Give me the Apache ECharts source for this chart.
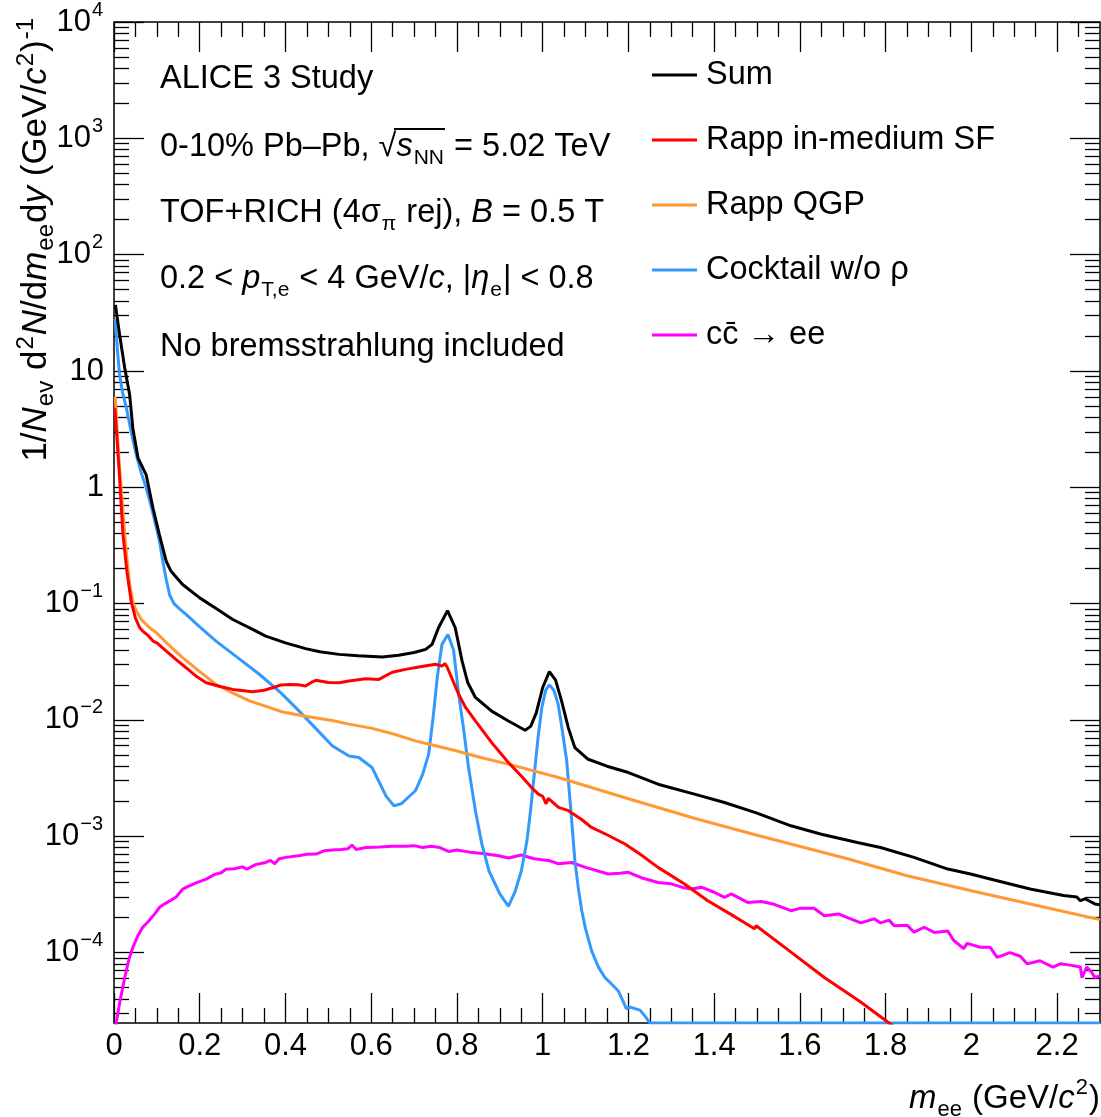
<!DOCTYPE html>
<html>
<head>
<meta charset="utf-8">
<script src="https://cdn.jsdelivr.net/npm/echarts@6/dist/echarts.min.js"></script>
<style>
  html, body { margin: 0; padding: 0; background: #fff; }
  #main { width: 1101px; height: 1117px; }
</style>
</head>
<body>
<div id="main"></div>
<script>
// values, [m_ee, yield]
var sumData = [
  [0.0033, 37], [0.013, 20.6], [0.025, 10.6], [0.0365, 6.25], [0.044, 3.2], [0.056, 1.79],
  [0.075, 1.28], [0.091, 0.66], [0.106, 0.39], [0.122, 0.23], [0.133, 0.19], [0.16, 0.146],
  [0.2, 0.112], [0.24, 0.09], [0.277, 0.073], [0.32, 0.061], [0.354, 0.0526], [0.4, 0.046],
  [0.447, 0.041], [0.48, 0.0385], [0.525, 0.0366], [0.57, 0.0357], [0.626, 0.0347], [0.664, 0.036],
  [0.7, 0.038], [0.727, 0.0404], [0.742, 0.0446], [0.757, 0.062], [0.778, 0.087], [0.796, 0.062],
  [0.812, 0.032], [0.825, 0.021], [0.843, 0.0156], [0.881, 0.0119], [0.92, 0.0098], [0.959, 0.00815],
  [0.972, 0.0088], [0.985, 0.0115], [1.0, 0.019], [1.0156, 0.026], [1.03, 0.022], [1.044, 0.0146],
  [1.06, 0.0085], [1.075, 0.00578], [1.106, 0.00459], [1.15, 0.004], [1.2, 0.00353], [1.269, 0.0028],
  [1.354, 0.0023], [1.424, 0.00195], [1.5, 0.00158], [1.579, 0.00123], [1.65, 0.00104], [1.734, 0.000885],
  [1.788, 0.0008], [1.866, 0.000658], [1.945, 0.000522], [1.998, 0.000473], [2.06, 0.000415],
  [2.137, 0.000352], [2.215, 0.000309], [2.246, 0.0003], [2.254, 0.000279], [2.265, 0.00029],
  [2.288, 0.000262], [2.3, 0.000258]
];
var rappSfData = [
  [0.002, 4.8], [0.008, 2.3], [0.013, 1.2], [0.021, 0.39], [0.03, 0.19], [0.04, 0.105], [0.05, 0.075],
  [0.06, 0.062], [0.067, 0.058], [0.08, 0.053], [0.091, 0.0476], [0.1, 0.046], [0.122, 0.039],
  [0.145, 0.033], [0.168, 0.0281], [0.19, 0.024], [0.215, 0.0209], [0.245, 0.0195], [0.277, 0.0183],
  [0.323, 0.0175], [0.35, 0.018], [0.37, 0.0189], [0.39, 0.02], [0.409, 0.0202], [0.43, 0.0201],
  [0.447, 0.0196], [0.46, 0.021], [0.471, 0.0219], [0.5, 0.021], [0.525, 0.0209], [0.548, 0.0216],
  [0.587, 0.0226], [0.618, 0.0223], [0.649, 0.0257], [0.68, 0.0272], [0.711, 0.0285], [0.75, 0.0301],
  [0.765, 0.029], [0.772, 0.0305], [0.777, 0.0285], [0.79, 0.022], [0.804, 0.0166], [0.82, 0.0128],
  [0.843, 0.0098], [0.881, 0.00638], [0.92, 0.0043], [0.95, 0.0033], [0.974, 0.00262], [0.99, 0.0023],
  [1.0, 0.0022], [1.008, 0.0019], [1.013, 0.00212], [1.037, 0.00177], [1.06, 0.00166], [1.09, 0.0014],
  [1.114, 0.00119], [1.15, 0.00103], [1.192, 0.000857], [1.23, 0.00069], [1.269, 0.00054],
  [1.33, 0.00039], [1.385, 0.000279], [1.44, 0.000212], [1.494, 0.00016], [1.498, 0.00017],
  [1.57, 0.000107], [1.657, 0.000061], [1.74, 0.000038], [1.808, 0.0000248], [1.85, 0.000019]
];
var rappQgpData = [
  [0.003, 6.0], [0.008, 2.8], [0.013, 1.47], [0.02, 0.7], [0.025, 0.393], [0.031, 0.23],
  [0.0365, 0.146], [0.045, 0.1], [0.052, 0.0863], [0.065, 0.072], [0.083, 0.062], [0.099, 0.0562],
  [0.12, 0.047], [0.14, 0.04], [0.16, 0.0343], [0.2, 0.026], [0.238, 0.0202], [0.28, 0.0168],
  [0.316, 0.0146], [0.36, 0.0129], [0.393, 0.0117], [0.45, 0.0107], [0.509, 0.0099], [0.548, 0.0092],
  [0.6, 0.0085], [0.65, 0.0076], [0.703, 0.0066], [0.75, 0.006], [0.8, 0.0054], [0.86, 0.0047],
  [0.92, 0.00417], [1.037, 0.0032], [1.2, 0.0021], [1.362, 0.0014], [1.5, 0.00102], [1.711, 0.00064],
  [1.85, 0.000458], [2.0, 0.00034], [2.15, 0.000255], [2.3, 0.000192]
];
var cocktailData = [
  [0.003, 28], [0.008, 15], [0.013, 9.3], [0.02, 6.5], [0.029, 4.8], [0.04, 3], [0.052, 1.9],
  [0.063, 1.35], [0.075, 0.99], [0.087, 0.68], [0.099, 0.448], [0.107, 0.33], [0.114, 0.23],
  [0.122, 0.16], [0.13, 0.118], [0.14, 0.1], [0.153, 0.09], [0.168, 0.0807], [0.2, 0.063],
  [0.238, 0.0476], [0.29, 0.034], [0.339, 0.0247], [0.39, 0.017], [0.432, 0.0119], [0.47, 0.0085],
  [0.509, 0.006], [0.548, 0.0049], [0.571, 0.00475], [0.602, 0.0039], [0.617, 0.003], [0.635, 0.0022],
  [0.653, 0.00183], [0.67, 0.0019], [0.703, 0.00246], [0.72, 0.0034], [0.734, 0.00508], [0.745, 0.011],
  [0.754, 0.0231], [0.765, 0.0446], [0.779, 0.0543], [0.792, 0.04], [0.804, 0.0166], [0.816, 0.0081],
  [0.827, 0.0039], [0.843, 0.00166], [0.858, 0.00086], [0.875, 0.0005], [0.9, 0.00032], [0.92, 0.00025],
  [0.935, 0.00033], [0.95, 0.0005], [0.963, 0.0009], [0.972, 0.0017], [0.982, 0.0039], [0.99, 0.0075],
  [0.998, 0.0128], [1.007, 0.018], [1.0156, 0.02], [1.026, 0.018], [1.036, 0.0137], [1.046, 0.008],
  [1.056, 0.00445], [1.065, 0.0018], [1.075, 0.00062], [1.083, 0.00036], [1.091, 0.00023],
  [1.1, 0.00016], [1.114, 0.000104], [1.13, 0.000075], [1.145, 0.000061], [1.16, 0.000054],
  [1.176, 0.000047], [1.185, 0.00004], [1.195, 0.000033], [1.205, 0.000034], [1.215, 0.000033],
  [1.227, 0.000032], [1.24, 0.000028], [1.25, 0.0000248], [2.3, 0.0000248]
];
var charmData = [
  [0.0, 0.000015], [0.005, 0.0000248], [0.015, 0.00004], [0.025, 0.000061], [0.035, 0.000088],
  [0.044, 0.000111], [0.055, 0.000138], [0.067, 0.000165], [0.08, 0.000185], [0.095, 0.000215],
  [0.106, 0.000245], [0.12, 0.000265], [0.135, 0.000285], [0.145, 0.0003], [0.16, 0.00035],
  [0.168, 0.000363], [0.19, 0.000395], [0.215, 0.000428], [0.235, 0.00047], [0.25, 0.000485],
  [0.261, 0.00052], [0.28, 0.000525], [0.3, 0.000545], [0.31, 0.00052], [0.33, 0.00057],
  [0.354, 0.000595], [0.365, 0.00062], [0.375, 0.00058], [0.385, 0.00064], [0.401, 0.000658],
  [0.43, 0.00068], [0.45, 0.0007], [0.471, 0.000703], [0.49, 0.00075], [0.509, 0.00076],
  [0.53, 0.00077], [0.545, 0.00078], [0.555, 0.00084], [0.565, 0.00077], [0.587, 0.0008],
  [0.62, 0.00081], [0.649, 0.00082], [0.68, 0.00082], [0.7, 0.00083], [0.72, 0.0008], [0.74, 0.00082],
  [0.76, 0.0008], [0.78, 0.00074], [0.8, 0.00076], [0.83, 0.00073], [0.86, 0.00071], [0.897, 0.00068],
  [0.92, 0.00065], [0.95, 0.00069], [0.98, 0.00064], [1.013, 0.00062], [1.037, 0.00058],
  [1.067, 0.000595], [1.1, 0.00054], [1.153, 0.000473], [1.18, 0.00048], [1.2, 0.00049],
  [1.23, 0.00044], [1.269, 0.0004], [1.3, 0.00039], [1.33, 0.00036], [1.347, 0.000352],
  [1.37, 0.000365], [1.4, 0.00033], [1.424, 0.000298], [1.44, 0.00032], [1.478, 0.00027],
  [1.51, 0.000275], [1.54, 0.00026], [1.579, 0.000229], [1.6, 0.00024], [1.633, 0.00024],
  [1.657, 0.000207], [1.69, 0.000215], [1.711, 0.0002], [1.742, 0.00018], [1.773, 0.000195],
  [1.788, 0.00018], [1.808, 0.00019], [1.82, 0.00017], [1.85, 0.000172], [1.866, 0.00015],
  [1.89, 0.000165], [1.913, 0.000149], [1.945, 0.000153], [1.959, 0.000127], [1.982, 0.000108],
  [1.99, 0.00012], [2.021, 0.000111], [2.044, 0.000111], [2.06, 0.000091], [2.09, 0.0001],
  [2.114, 0.000093], [2.13, 0.00008], [2.16, 0.000085], [2.19, 0.000075], [2.207, 0.00008],
  [2.23, 0.000078], [2.254, 0.000075], [2.258, 0.000061], [2.269, 0.000075], [2.28, 0.000068],
  [2.288, 0.000061], [2.3, 0.000063]
];

var seriesNames = ['Sum', 'Rapp in-medium SF', 'Rapp QGP', 'Cocktail w/o \u03c1', 'cc\u0304 \u2192 ee'];
var seriesColors = ['#000000', '#ff0000', '#ff9933', '#3399ff', '#ff00ff'];
var seriesData = [sumData, rappSfData, rappQgpData, cocktailData, charmData];

var xMajorTicks = [0, 0.2, 0.4, 0.6, 0.8, 1, 1.2, 1.4, 1.6, 1.8, 2, 2.2];
var xMinorTicks = [];
for (var i = 1; i < 46; i++) { if (i % 4 !== 0) xMinorTicks.push(i * 0.05); }
var yMajorTicks = [1e-4, 1e-3, 1e-2, 1e-1, 1, 10, 100, 1000, 10000];
var yMinorTicks = [];
for (var e = -5; e <= 3; e++) {
  for (var k = 2; k <= 9; k++) {
    var v = k * Math.pow(10, e);
    if (v > 2.48e-5 && v < 1e4) yMinorTicks.push(v);
  }
}

var FONT = 'Liberation Sans, Arial, Helvetica, sans-serif';
function makeRich(base, small) {
  return {
    n: { fontSize: base, lineHeight: 44, fontFamily: FONT, color: '#000' },
    i: { fontSize: base, lineHeight: 44, fontFamily: FONT, fontStyle: 'italic', color: '#000' },
    sub: { fontSize: small, lineHeight: 18, verticalAlign: 'bottom', fontFamily: FONT, color: '#000', padding: [0, 1, 0, 1] },
    sup: { fontSize: small, lineHeight: 18, verticalAlign: 'top', fontFamily: FONT, color: '#000', padding: [0, 1, 0, 1] }
  };
}
var richText = makeRich(32.5, 21);
var richTick = makeRich(31, 20);
var richYTitle = makeRich(35, 24);
var richXTitle = makeRich(33, 22);

var myChart = echarts.init(document.getElementById('main'));

function tickAxis(type, position, values, len) {
  var ax = {
    type: type,
    position: position,
    axisLine: { show: false, onZero: false },
    axisTick: { show: true, inside: true, length: len, customValues: values, lineStyle: { color: '#000', width: 1.3 } },
    axisLabel: { show: false },
    splitLine: { show: false }
  };
  if (type === 'value') { ax.min = 0; ax.max = 2.3; }
  else { ax.min = 2.48e-5; ax.max = 1e4; ax.logBase = 10; }
  return ax;
}

var xMain = tickAxis('value', 'bottom', xMajorTicks, 30);
xMain.axisLabel = {
  show: true, customValues: xMajorTicks, margin: 8, fontSize: 31, fontFamily: FONT, color: '#000'
};
var yMain = tickAxis('log', 'left', yMajorTicks, 30);
yMain.axisLabel = {
  show: true, customValues: yMajorTicks, margin: 10,
  formatter: function (val) {
    var p = Math.round(Math.log10(val));
    if (p === 0) return '{n|1}';
    if (p === 1) return '{n|10}';
    return '{n|10}{sup|' + (p < 0 ? '\u2212' + (-p) : p) + '}';
  },
  rich: richTick
};

var option = {
  animation: false,
  backgroundColor: '#fff',
  grid: {
    left: 114, top: 20, width: 986, height: 1003,
    show: true, borderColor: '#000', borderWidth: 1.5, backgroundColor: '#fff'
  },
  legend: {
    orient: 'vertical', left: 652, top: 53, padding: 0,
    icon: 'rect', itemWidth: 45, itemHeight: 3, itemGap: 21,
    textStyle: { fontSize: 32.5, lineHeight: 40, fontFamily: FONT, color: '#000', padding: [4, 0, 0, 4] },
    data: seriesNames
  },
  xAxis: [
    xMain,
    tickAxis('value', 'bottom', xMinorTicks, 15),
    tickAxis('value', 'top', xMajorTicks, 30),
    tickAxis('value', 'top', xMinorTicks, 15)
  ],
  yAxis: [
    yMain,
    tickAxis('log', 'left', yMinorTicks, 15),
    tickAxis('log', 'right', yMajorTicks, 30),
    tickAxis('log', 'right', yMinorTicks, 15)
  ],
  series: [4, 3, 2, 1, 0].map(function (j) {
    return {
      name: seriesNames[j],
      type: 'line',
      data: seriesData[j],
      showSymbol: false,
      symbol: 'none',
      clip: true,
      color: seriesColors[j],
      lineStyle: { color: seriesColors[j], width: 3 },
      z: 3 + (4 - j)
    };
  }),
  graphic: [
    { type: 'text', x: 160, y: 79, style: { text: '{n|ALICE 3 Study}', rich: richText, verticalAlign: 'middle' } },
    { type: 'text', x: 160, y: 147, style: {
      text: '{n|0-10% Pb\u2013Pb, \u221a}{i|s}{sub|NN}{n| = 5.02 TeV}', rich: richText, verticalAlign: 'middle' } },
    // radical overline
    { type: 'line', shape: { x1: 394, y1: 129, x2: 445, y2: 129 }, style: { stroke: '#000', lineWidth: 2 } },
    { type: 'text', x: 160, y: 213, style: {
      text: '{n|TOF+RICH (4\u03c3}{sub|\u03c0}{n| rej), }{i|B}{n| = 0.5 T}', rich: richText, verticalAlign: 'middle' } },
    { type: 'text', x: 160, y: 279, style: {
      text: '{n|0.2 < }{i|p}{sub|T,e}{n| < 4 GeV/}{i|c}{n|, |}{i|\u03b7}{sub|e}{n|| < 0.8}', rich: richText, verticalAlign: 'middle' } },
    { type: 'text', x: 160, y: 347, style: { text: '{n|No bremsstrahlung included}', rich: richText, verticalAlign: 'middle' } },
    { type: 'text', x: 36, y: 17, rotation: Math.PI / 2, style: {
      text: '{n|1/}{i|N}{sub|ev}{n| d}{sup|2}{i|N}{n|/d}{i|m}{sub|ee}{n|d}{i|y}{n| (GeV/}{i|c}{sup|2}{n|)}{sup|-1}',
      rich: richYTitle, align: 'right', verticalAlign: 'middle' } },
    { type: 'text', x: 1100, y: 1099, style: {
      text: '{i|m}{sub|ee}{n| (GeV/}{i|c}{sup|2}{n|)}', rich: richXTitle, align: 'right', verticalAlign: 'middle' } }
  ]
};

myChart.setOption(option);
</script>
</body>
</html>
